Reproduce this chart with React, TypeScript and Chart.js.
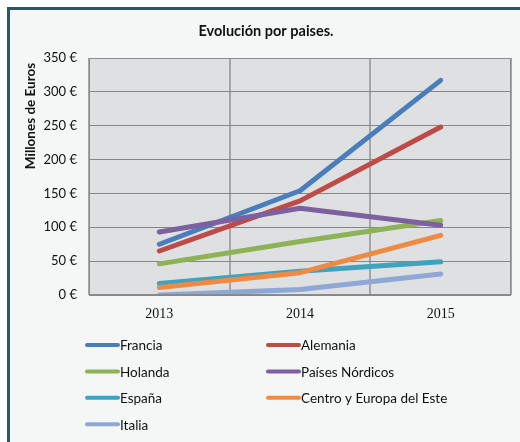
import React, { useEffect, useRef } from "react";
import { Chart, registerables } from "chart.js";

Chart.register(...registerables);

const years = ["2013", "2014", "2015"];
const seriesNames = [
  "Francia",
  "Alemania",
  "Holanda",
  "Países Nórdicos",
  "España",
  "Centro y Europa del Este",
  "Italia",
];
const francia = [75, 154, 317];
const alemania = [65, 139, 248];
const holanda = [46, 79, 110];
const nordicos = [93, 128, 103];
const espana = [17, 35, 49];
const centro = [11, 33, 88];
const italia = [0, 8, 31];
const seriesColors = ["#4a7ebb", "#be4b48", "#8db356", "#7d60a0", "#3fa3bd", "#ee8a43", "#8ea8d6"];
const yTicks = [0, 50, 100, 150, 200, 250, 300, 350];
const chartTitle = "Evolución por paises.";
const yTitle = "Millones de Euros";

const FONT = "Lato, 'Open Sans', sans-serif";

const decorPlugin = {
  id: "decor",
  beforeDraw(chart: any) {
    const { ctx, chartArea: a } = chart;
    ctx.save();
    ctx.fillStyle = "#dfe0e2";
    ctx.fillRect(a.left, a.top, a.right - a.left, a.bottom - a.top);
    ctx.restore();
  },
  afterDraw(chart: any) {
    const { ctx, chartArea: a } = chart;
    ctx.save();
    // title
    ctx.fillStyle = "#111";
    ctx.font = "bold 14.5px " + FONT;
    ctx.textAlign = "center";
    ctx.textBaseline = "middle";
    ctx.fillText(chartTitle, 256, 21);
    // y title
    ctx.save();
    ctx.translate(21, 106);
    ctx.rotate(-Math.PI / 2);
    ctx.font = "bold 13.5px " + FONT;
    ctx.fillText(yTitle, 0, 0);
    ctx.restore();
    // plot border
    ctx.strokeStyle = "#8c8c8c";
    ctx.lineWidth = 1;
    ctx.strokeRect(a.left + 0.5, a.top + 0.5, a.right - a.left - 1, a.bottom - a.top - 1);
    // legend
    const ds = chart.data.datasets;
    ds.forEach((d: any, i: number) => {
      const col = i % 2;
      const row = Math.floor(i / 2);
      const x0 = col === 0 ? 77 : 258;
      const y = 335 + row * 26.4;
      ctx.strokeStyle = d.borderColor;
      ctx.lineWidth = 4;
      ctx.lineCap = "round";
      ctx.beginPath();
      ctx.moveTo(x0, y);
      ctx.lineTo(x0 + 31, y);
      ctx.stroke();
      ctx.fillStyle = "#111";
      ctx.font = "13.5px " + FONT;
      ctx.textAlign = "left";
      ctx.textBaseline = "middle";
      ctx.fillText(d.label, x0 + 33, y + 1);
    });
    ctx.restore();
  },
};

export default function App() {
  const ref = useRef<HTMLCanvasElement>(null);
  useEffect(() => {
    document.documentElement.style.overflow = "hidden";
    document.body.style.overflow = "hidden";
    const values = [francia, alemania, holanda, nordicos, espana, centro, italia];
    const chart = new Chart(ref.current!, {
      type: "line",
      data: {
        labels: years,
        datasets: seriesNames.map((name, i) => ({
          label: name,
          data: values[i],
          borderColor: seriesColors[i],
          backgroundColor: seriesColors[i],
          borderWidth: 5,
          borderCapStyle: "round" as const,
          borderJoinStyle: "round" as const,
          pointRadius: 0,
          tension: 0,
          order: 10 - i,
        })),
      },
      options: {
        animation: false,
        responsive: false,
        maintainAspectRatio: false,
        layout: { padding: { top: 48, right: 9, left: 0, bottom: 0 } },
        plugins: { legend: { display: false }, tooltip: { enabled: false }, title: { display: false } },
        scales: {
          x: {
            offset: true,
            grid: { offset: true, color: "#a4a4a4", lineWidth: 2, drawTicks: false },
            border: { display: false },
            ticks: { color: "#111", font: { family: "'Liberation Serif', serif", size: 14 }, padding: 11 },
            afterFit: (s: any) => { s.height = 147; },
          },
          y: {
            min: 0,
            max: 350,
            afterBuildTicks: (s: any) => { s.ticks = yTicks.map((v) => ({ value: v })); },
            grid: { color: "#878787", lineWidth: 1, drawTicks: false },
            border: { display: false },
            ticks: {
              color: "#111",
              font: { family: FONT, size: 13 },
              padding: 12,
              callback: (v: any) => v + " €",
            },
            afterFit: (s: any) => { s.width = 79; },
          },
        },
      },
      plugins: [decorPlugin],
    });
    return () => chart.destroy();
  }, []);
  return (
    <div
      style={{
        position: "fixed",
        left: 7,
        top: 7,
        width: 540,
        height: 460,
        border: "3px solid #25596b",
        background: "#f5f6f6",
      }}
    >
      <canvas ref={ref} width={510} height={432} style={{ width: 510, height: 432, display: "block" }} />
    </div>
  );
}
